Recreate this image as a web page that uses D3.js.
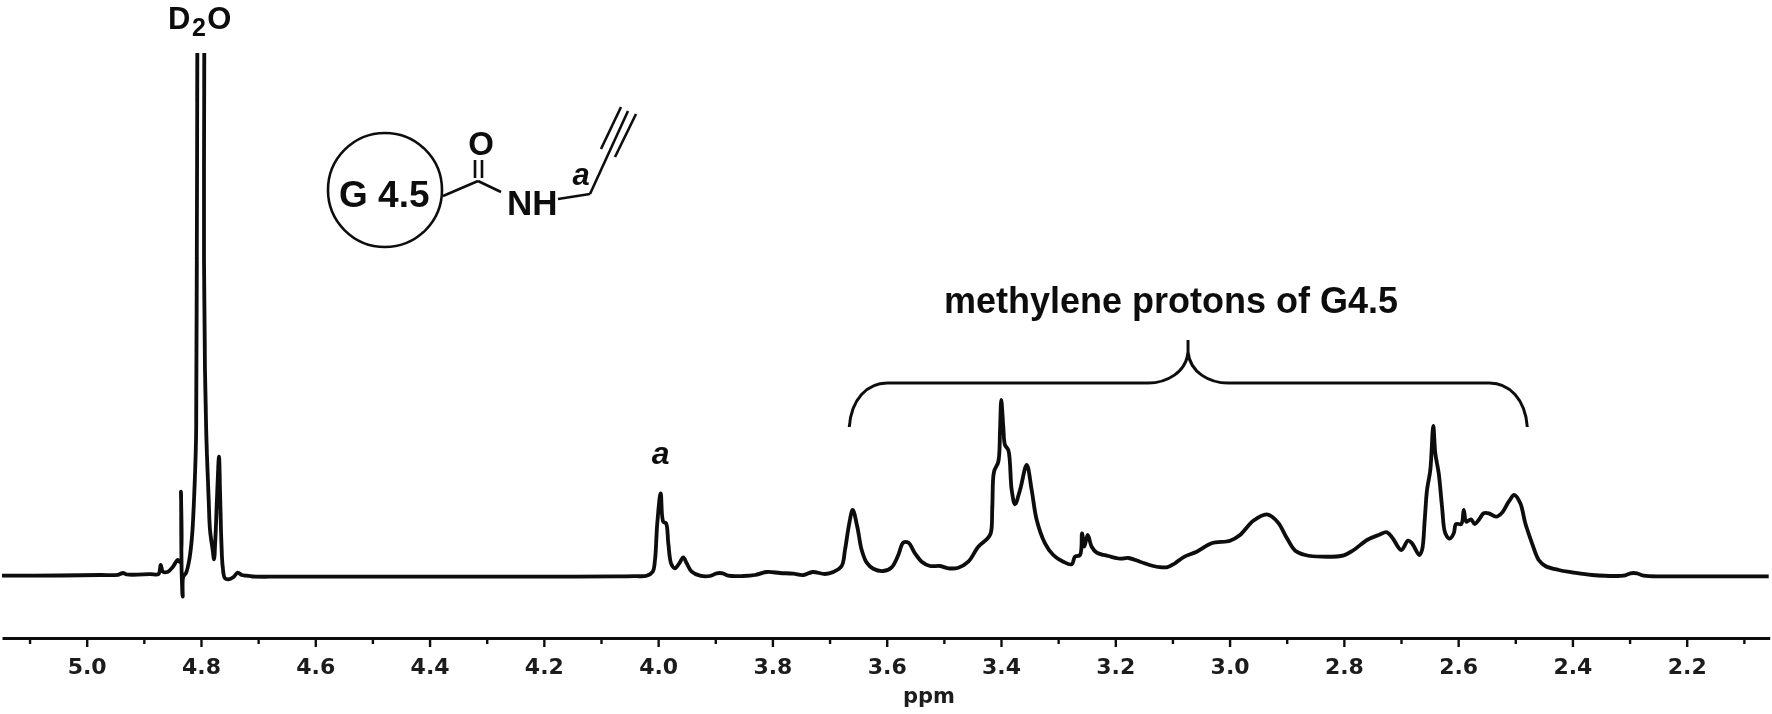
<!DOCTYPE html>
<html>
<head>
<meta charset="utf-8">
<script src="https://cdn.jsdelivr.net/npm/d3@7"></script>
<style>
html,body{margin:0;padding:0;background:#fff}
svg{display:block}
.tick-label{font-family:"DejaVu Sans",sans-serif;font-weight:700;fill:#1a1a1a}
.lab{font-family:"Liberation Sans",Arial,sans-serif;font-weight:700;fill:#111}
</style>
</head>
<body>
<svg id="c" width="1772" height="714"></svg>
<script>
// Chemical shift (ppm) of each traced point of the spectrum
const ppm = [5.1482,5.0467,4.9767,4.9452,4.9365,4.9295,4.8892,4.8743,4.8705,4.8665,4.8577,4.8490,4.8407,4.8367,4.8350,4.8338,4.8320,4.8310,4.8262,4.8205,4.8157,4.8122,4.8087,4.8082,4.8073,4.8064,
4.8000,
4.7942,4.7947,4.7930,4.7904,4.7865,4.7842,4.7795,4.7772,4.7749,4.7714,4.7685,4.7667,4.7644,4.7620,4.7580,4.7522,4.7435,4.7358,4.7288,4.7200,4.7100,4.6617,4.4517,4.2767,4.1500,4.0700,4.0400,
4.0200,4.0095,4.0055,4.0015,3.9955,3.9910,3.9862,3.9822,3.9770,3.9705,3.9630,3.9560,3.9500,3.9413,3.9267,3.9092,3.8975,3.8870,3.8772,3.8510,3.8305,3.8100,3.7867,3.7635,3.7460,3.7295,3.7080,3.6935,
3.6788,3.6730,3.6655,3.6595,3.6515,3.6438,3.6350,3.6235,3.6060,3.5913,3.5797,3.5710,3.5622,3.5505,3.5388,3.5242,3.5067,3.4922,3.4747,3.4572,3.4397,3.4250,
3.4180,3.4152,3.4122,3.4047,3.4017,3.3995,3.3960,3.3930,3.3872,3.3813,3.3755,3.3667,3.3550,3.3463,3.3375,3.3230,3.3085,3.2910,3.2763,3.2705,3.2617,3.2582,3.2542,3.2483,3.2413,3.2325,3.2122,3.1917,3.1772,3.1567,3.1335,3.1100,3.0955,3.0810,3.0575,3.0313,2.9992,2.9817,2.9585,2.9350,2.9257,2.9140,2.8995,2.8850,2.8675,2.8382,2.8002,2.7827,2.7595,2.7390,2.7245,2.7145,2.6995,2.6877,2.6807,2.6680,2.6632,2.6585,2.6545,2.6487,2.6435,2.6400,2.6340,2.6282,2.6225,2.6147,2.6077,2.6037,2.5945,2.5902,2.5857,2.5775,2.5710,2.5640,2.5553,2.5465,2.5337,2.5232,2.5115,2.5017,2.4912,2.4825,2.4707,2.4590,2.4475,2.4240,2.4007,2.3657,2.3075,2.2987,2.2870,2.2753,2.2257,2.0565];

// Signal intensity (a.u.) at those points; null = the off-scale top of the D2O peak
const intensity = [0.3,0.5,1,1.2,3,1.5,1.8,2,11,4.3,4.3,9.3,16,14,84.3,3,-20.7,-0.7,3,16,39.3,76,136,176,316,523,
null,
523,316,206,136,76,46,26,16.7,36,86,119.3,86,36,9.3,-2.3,-3.3,-1.3,3.3,1,0.3,-0.5,-0.7,-0.7,-0.7,-0.6,-0.4,-0.2,
0.3,4.3,16,52.7,82.7,54.3,52.7,32.7,12,7.7,12.7,18.7,12.7,4.3,0.3,0,2.7,2.7,0.3,0,1,4,3,2.3,1,4,2,4,
10,26,52.7,66,49.3,26,13.3,7.3,5,8.7,21,33.3,33.3,22.7,14.3,10,10,7.7,8.3,14.3,29.3,36.7,
42.7,69.3,104.3,114.3,146,176,149.3,131,126,86,71.7,86,111,86,56,32.7,21,14.3,11.7,19.3,21,42.7,29.3,41,29.3,23.3,20,17.3,18,14.3,10,8.7,12.7,18.7,24.3,32.7,35.3,41,55.3,61.7,59.3,52.7,37.7,25.3,21,19.3,20.7,26,36,41,43.7,37.7,26,35.3,32.7,21,26,56,86,106,150,122.7,102.7,69.3,42.7,37.3,42.7,52,52,66,54.3,56.7,52,56,62.7,62.7,59.3,63.3,74.3,81,72.7,52.7,32.7,16,10,6,3.7,1,0.7,2.7,2.7,0.3,-0.3,-0.3];

const majorTicks = [5.0,4.8,4.6,4.4,4.2,4.0,3.8,3.6,3.4,3.2,3.0,2.8,2.6,2.4,2.2];
const minorTicks = [5.1,4.9,4.7,4.5,4.3,4.1,3.9,3.7,3.5,3.3,3.1,2.9,2.7,2.5,2.3,2.1];
const xTitle = "ppm";
const bracketPpm = {left:3.6655, tip:3.0727, right:2.4790};
const peakLabels = [{ppm:3.9955, text:"a"}];

const x = d3.scaleLinear().domain([5.1482,2.0548]).range([2,1769.7]);
const y = d3.scaleLinear().domain([0,100]).range([576,476]);

const svg = d3.select("#c");
const defs = svg.append("defs");
defs.append("filter").attr("id","soft").attr("x","-2%").attr("y","-5%").attr("width","104%").attr("height","110%")
  .append("feGaussianBlur").attr("stdDeviation",0.6);
const root = svg.append("g").attr("filter","url(#soft)");

// Spectrum
const pts = ppm.map((p,i)=>({p,v:intensity[i]}));
const line = d3.line().defined(d=>d.v!==null).x(d=>x(d.p)).y(d=>y(d.v)).curve(d3.curveCatmullRom.alpha(0.5));
root.append("path").datum(pts).attr("d",line).attr("fill","none").attr("stroke","#0a0a0a")
  .attr("stroke-width",3.8).attr("stroke-linejoin","round");

// Axis
const axisY = 638;
const major = d3.axisBottom(x).tickValues(majorTicks).tickSize(9).tickSizeOuter(0).tickPadding(11).tickFormat(d3.format(".1f"));
const minor = d3.axisBottom(x).tickValues(minorTicks).tickSize(6).tickSizeOuter(0).tickFormat("");
const gMinor = root.append("g").attr("transform",`translate(0,${axisY})`).call(minor);
const gMajor = root.append("g").attr("transform",`translate(0,${axisY})`).call(major);
gMinor.select(".domain").remove();
gMajor.select(".domain").attr("stroke","#111").attr("stroke-width",2.8);
root.selectAll(".tick line").attr("stroke","#111").attr("stroke-width",2.4);
gMajor.selectAll(".tick text").attr("class","tick-label").style("font-size","22px");
root.append("text").attr("class","tick-label").attr("x",929).attr("y",703).attr("text-anchor","middle")
  .style("font-size","21px").text(xTitle);

// Bracket
const bL=x(bracketPpm.left), bT=x(bracketPpm.tip), bR=x(bracketPpm.right);
const bBar=383, bEnd=427, bTop=340, bNeck=352;
root.append("path").attr("fill","none").attr("stroke","#111").attr("stroke-width",3)
  .attr("d",`M${bL},${bEnd} C${bL+2},${bBar+16} ${bL+18},${bBar} ${bL+38},${bBar} L${bT-40},${bBar} C${bT-22},${bBar} ${bT-2},${bBar-10} ${bT},${bNeck} L${bT},${bTop} M${bT},${bNeck} C${bT+2},${bBar-10} ${bT+22},${bBar} ${bT+40},${bBar} L${bR-38},${bBar} C${bR-18},${bBar} ${bR-2},${bBar+16} ${bR},${bEnd}`);

// Text labels
root.append("text").attr("class","lab").attr("x",944).attr("y",313).style("font-size","36px").text("methylene protons of G4.5");
const d2o = root.append("text").attr("class","lab").attr("x",168).attr("y",29).style("font-size","31px").style("letter-spacing","1.5px");
d2o.append("tspan").text("D");
d2o.append("tspan").attr("dy",7).style("font-size","25px").text("2");
d2o.append("tspan").attr("dy",-7).text("O");
root.selectAll("text.peak").data(peakLabels).join("text").attr("class","lab peak")
  .attr("x",d=>x(d.ppm)).attr("y",464).attr("text-anchor","middle").style("font-size","32px").style("font-style","italic").text(d=>d.text);

// Structure drawing
const s = root.append("g").attr("stroke","#111").attr("stroke-width",2.6).attr("fill","none");
s.append("circle").attr("cx",385).attr("cy",190).attr("r",57);
[[443,196,478,181],[478,181,501,192],[475,160,475,178],[482,160,482,178],[558,199,590,194],[590,194,628,111],[601,149,621,107],[615,157,636,114]]
 .forEach(l=>s.append("line").attr("x1",l[0]).attr("y1",l[1]).attr("x2",l[2]).attr("y2",l[3]));
root.append("text").attr("class","lab").attr("x",339).attr("y",207).style("font-size","37px").text("G 4.5");
root.append("text").attr("class","lab").attr("x",481).attr("y",155).attr("text-anchor","middle").style("font-size","33px").text("O");
root.append("text").attr("class","lab").attr("x",507).attr("y",215).style("font-size","35px").text("NH");
root.append("text").attr("class","lab").attr("x",581).attr("y",185).attr("text-anchor","middle").style("font-size","31px").style("font-style","italic").text("a");
</script>
</body>
</html>
